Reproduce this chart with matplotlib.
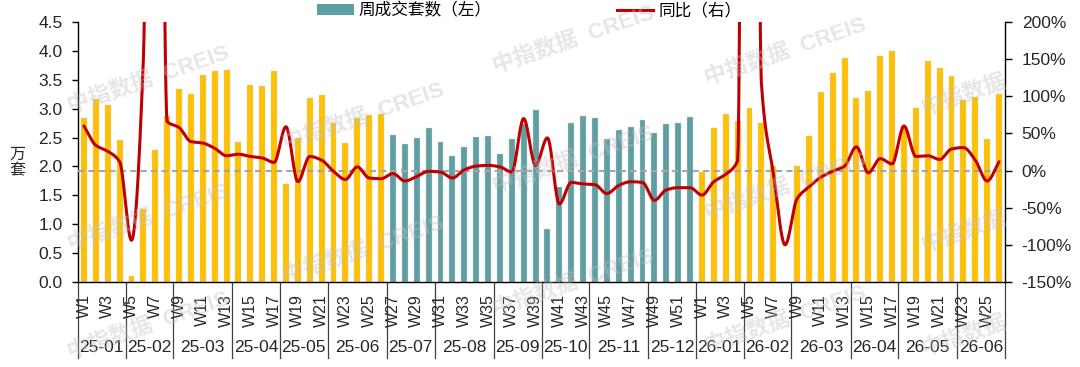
import numpy as np
import matplotlib
matplotlib.use("Agg")
import matplotlib.pyplot as plt
from matplotlib.patches import Patch
from matplotlib.lines import Line2D
import matplotlib.transforms as mtransforms

plt.rcParams['font.family'] = ['Liberation Sans', 'Noto Sans CJK SC', 'DejaVu Sans']

# weekly transactions (10k units), 2025 W1-W52 then 2026 W1-W26
vol_2025 = [2.84, 3.16, 3.06, 2.45, 0.11, 1.26, 2.29, 2.87, 3.34, 3.25, 3.59, 3.66, 3.67,
            2.42, 3.41, 3.39, 3.66, 1.70, 2.50, 3.18, 3.24, 2.76, 2.40, 2.84, 2.89, 2.91,
            2.54, 2.39, 2.50, 2.67, 2.42, 2.18, 2.34, 2.51, 2.53, 2.22, 2.48, 2.74, 2.97,
            0.92, 1.64, 2.76, 2.88, 2.83, 2.48, 2.63, 2.69, 2.80, 2.58, 2.73, 2.75, 2.86]
vol_2026 = [1.91, 2.66, 2.91, 2.78, 3.02, 2.75, 2.01, 0.0, 2.01, 2.53, 3.28, 3.61, 3.87,
            3.19, 3.31, 3.92, 4.00, 2.70, 3.01, 3.83, 3.70, 3.56, 3.15, 3.20, 2.48, 3.25]
# year-on-year change (%)
yoy_2025 = [60, 34, 26, 12, -94, 150, 1500, 66, 58, 39, 37, 30, 20, 22, 19, 17, 11, 59,
            -15, 19, 14, -1, -12, 5, -10, -11, -4, -14, -8, -1, -2, -10, 1, 6, 7, 5, -2,
            70, 7, 44, -45, -16, -18, -19, -31, -20, -15, -16, -40, -26, -23, -23]
yoy_2026 = [-33, -15, -5, 13, 2650, 118, -3, -100, -38, -22, -9, -1, 6, 32, -3, 16, 9,
            60, 19, 20, 15, 29, 31, 14, -14, 12]

months = ['25-01', '25-02', '25-03', '25-04', '25-05', '25-06', '25-07', '25-08', '25-09',
          '25-10', '25-11', '25-12', '26-01', '26-02', '26-03', '26-04', '26-05', '26-06']
weeks_per_month = [4, 4, 5, 4, 4, 5, 4, 5, 4, 4, 5, 4, 4, 4, 5, 4, 5, 4]
# months drawn in teal (the rest are yellow)
teal_months = ['25-07', '25-08', '25-09', '25-10', '25-11', '25-12']

YELLOW = '#FFC000'
TEAL = '#5F9EA3'
RED = '#C00000'

vol = vol_2025 + vol_2026
yoy = yoy_2025 + yoy_2026
week_no = list(range(1, 53)) + list(range(1, 27))
n = len(vol)
x = np.arange(n)

colors = []
for m, k in zip(months, weeks_per_month):
    colors += [TEAL if m in teal_months else YELLOW] * k


def smooth(xs, ys, num=20):
    # monotone cubic (pchip) curve through the points, for drawing only
    xs = np.asarray(xs, float)
    ys = np.asarray(ys, float)
    h = np.diff(xs)
    dl = np.diff(ys) / h
    d = np.zeros_like(ys)
    d[0], d[-1] = dl[0], dl[-1]
    for k in range(1, len(ys) - 1):
        if dl[k - 1] * dl[k] > 0:
            w1 = 2 * h[k] + h[k - 1]
            w2 = h[k] + 2 * h[k - 1]
            d[k] = (w1 + w2) / (w1 / dl[k - 1] + w2 / dl[k])
    px, py = [], []
    for k in range(len(ys) - 1):
        t = np.linspace(0, 1, num, endpoint=False)
        h00 = 2 * t**3 - 3 * t**2 + 1
        h10 = t**3 - 2 * t**2 + t
        h01 = -2 * t**3 + 3 * t**2
        h11 = t**3 - t**2
        px.append(xs[k] + t * h[k])
        py.append(h00 * ys[k] + h10 * h[k] * d[k] + h01 * ys[k + 1] + h11 * h[k] * d[k + 1])
    px.append([xs[-1]])
    py.append([ys[-1]])
    return np.concatenate(px), np.concatenate(py)


fig = plt.figure(figsize=(10.8, 3.67), dpi=100)
ax = fig.add_axes([78 / 1080, 1 - 282 / 367, (1005 - 78) / 1080, 260 / 367])
ax2 = ax.twinx()

ax.bar(x, vol, width=0.5, color=colors, edgecolor='#d0d0d0', linewidth=0.3, zorder=2)
ax.set_xlim(-0.5, n - 0.5)
ax.set_ylim(0, 4.5)
ax.set_yticks(np.arange(0, 4.51, 0.5))
ax.set_yticklabels([f'{v:.1f}' for v in np.arange(0, 4.51, 0.5)])
ax.set_xticks([])

ax2.axhline(0, color='#A6A6A6', lw=1.5, ls=(0, (3, 2)), zorder=1)
sx, sy = smooth(x, yoy)
ax2.plot(sx, sy, color=RED, lw=2.2, zorder=3, solid_capstyle='round')
ax2.set_ylim(-150, 200)
ax2.set_yticks(np.arange(-150, 201, 50))
ax2.set_yticklabels([f'{v}%' for v in range(-150, 201, 50)])
ax2.set_xlim(-0.5, n - 0.5)

for a in (ax, ax2):
    a.spines['top'].set_visible(False)
    for s in a.spines.values():
        s.set_color('#000000')
        s.set_linewidth(1.0)
ax2.spines['left'].set_visible(False)
ax2.spines['bottom'].set_visible(False)
ax.spines['right'].set_visible(False)
ax.tick_params(axis='y', direction='out', length=4, width=1, pad=7, labelsize=12.5,
               labelcolor='#262626')
ax2.tick_params(axis='y', direction='out', length=5, width=1, pad=7, labelsize=12.5,
                labelcolor='#262626')

ax.text(-0.065, 0.46, '万\n套', transform=ax.transAxes, fontsize=11.5,
        ha='center', va='center', linespacing=1.15, color='#262626')

# two-level category axis: week numbers and months
trans = mtransforms.blended_transform_factory(ax.transData, ax.transAxes)
for i in range(n):
    if week_no[i] % 2 == 1:
        ax.text(i, -12 / 260, f'W{week_no[i]}', transform=trans, rotation=90,
                ha='center', va='top', fontsize=11.5, color='#262626')
edges = np.concatenate([[0], np.cumsum(weeks_per_month)]) - 0.5
for b in edges:
    ax.plot([b, b], [0, -76 / 260], transform=trans, color='#404040', lw=0.9,
            clip_on=False)
for m, lo, hi in zip(months, edges[:-1], edges[1:]):
    ax.text((lo + hi) / 2, -66 / 260, m, transform=trans, ha='center', va='center',
            fontsize=12.5, color='#262626')

handles = [Patch(facecolor=TEAL), Line2D([], [], color=RED, lw=2.2)]
fig.legend(handles, ['周成交套数（左）', '同比（右）'], loc='center',
           bbox_to_anchor=(0.49, 0.972), ncol=2, frameon=False, fontsize=12,
           columnspacing=7.5, handlelength=2.2, handletextpad=0.3)

# watermarks
marks = [(148, 80), (148, 218), (148, 326), (363, 117), (363, 250), (573, 40),
         (573, 160), (573, 283), (785, 52), (785, 187), (785, 320)]
for mx, my in marks:
    fig.text(mx / 1080, 1 - my / 367, '中指数据  CREIS', rotation=19, fontsize=16,
             fontweight='bold', color='#c0c0c0', alpha=0.4, ha='center', va='center',
             zorder=10)
for mx, my in [(963, 95), (963, 232), (963, 336)]:
    fig.text(mx / 1080, 1 - my / 367, '中指数据', rotation=19, fontsize=16,
             fontweight='bold', color='#c0c0c0', alpha=0.4, ha='center', va='center',
             zorder=10)

fig.savefig('out.png', dpi=100)
